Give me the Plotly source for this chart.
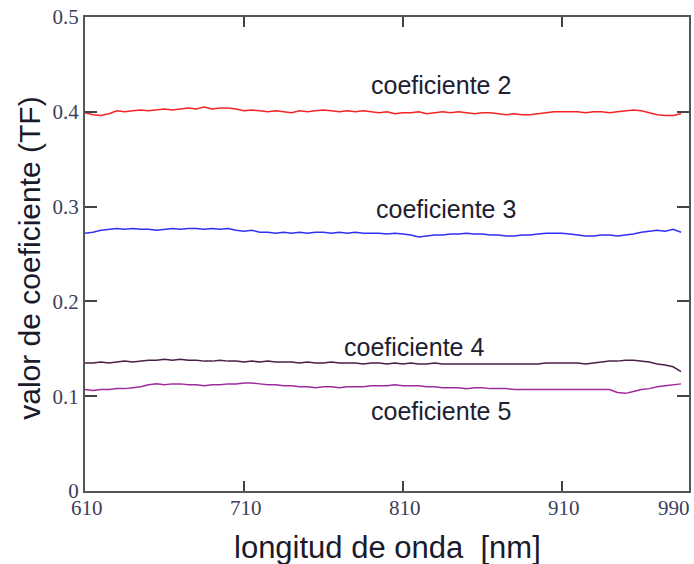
import plotly.graph_objects as go

wavelength = list(range(610, 990, 5))

coef2 = [0.399, 0.397, 0.396, 0.398, 0.401, 0.400, 0.401, 0.402, 0.401, 0.402,
         0.403, 0.402, 0.403, 0.404, 0.403, 0.405, 0.403, 0.404, 0.404, 0.403,
         0.401, 0.402, 0.401, 0.400, 0.401, 0.400, 0.399, 0.401, 0.400, 0.401,
         0.402, 0.401, 0.400, 0.401, 0.400, 0.401, 0.400, 0.399, 0.400, 0.398,
         0.399, 0.399, 0.400, 0.398, 0.399, 0.400, 0.399, 0.400, 0.399, 0.398,
         0.399, 0.399, 0.398, 0.397, 0.398, 0.397, 0.397, 0.398, 0.399, 0.400,
         0.400, 0.400, 0.400, 0.399, 0.400, 0.400, 0.399, 0.400, 0.401, 0.402,
         0.401, 0.399, 0.397, 0.396, 0.396, 0.398]

coef3 = [0.272, 0.273, 0.275, 0.276, 0.277, 0.276, 0.277, 0.276, 0.276, 0.275,
         0.276, 0.277, 0.276, 0.277, 0.277, 0.276, 0.277, 0.276, 0.277, 0.275,
         0.274, 0.275, 0.273, 0.273, 0.272, 0.273, 0.272, 0.273, 0.272, 0.273,
         0.273, 0.272, 0.273, 0.272, 0.273, 0.272, 0.272, 0.272, 0.271, 0.272,
         0.271, 0.270, 0.268, 0.269, 0.270, 0.270, 0.271, 0.271, 0.272, 0.271,
         0.271, 0.270, 0.270, 0.269, 0.269, 0.270, 0.270, 0.271, 0.272, 0.272,
         0.272, 0.271, 0.270, 0.269, 0.269, 0.270, 0.270, 0.269, 0.270, 0.271,
         0.273, 0.274, 0.275, 0.274, 0.276, 0.273]

coef4 = [0.135, 0.135, 0.136, 0.135, 0.136, 0.137, 0.136, 0.137, 0.138, 0.138,
         0.139, 0.138, 0.139, 0.138, 0.138, 0.137, 0.137, 0.138, 0.137, 0.137,
         0.136, 0.137, 0.136, 0.137, 0.136, 0.136, 0.136, 0.135, 0.136, 0.135,
         0.135, 0.136, 0.135, 0.135, 0.135, 0.134, 0.135, 0.135, 0.134, 0.135,
         0.134, 0.135, 0.134, 0.134, 0.135, 0.134, 0.134, 0.134, 0.134, 0.134,
         0.134, 0.134, 0.134, 0.134, 0.134, 0.134, 0.134, 0.134, 0.135, 0.135,
         0.135, 0.135, 0.135, 0.134, 0.135, 0.136, 0.137, 0.137, 0.138, 0.138,
         0.137, 0.136, 0.134, 0.133, 0.131, 0.126]

coef5 = [0.107, 0.106, 0.107, 0.107, 0.108, 0.108, 0.109, 0.110, 0.112, 0.113,
         0.112, 0.113, 0.113, 0.112, 0.112, 0.111, 0.112, 0.112, 0.113, 0.113,
         0.114, 0.114, 0.113, 0.112, 0.112, 0.111, 0.111, 0.110, 0.110, 0.109,
         0.110, 0.110, 0.109, 0.110, 0.110, 0.110, 0.111, 0.111, 0.111, 0.112,
         0.111, 0.111, 0.111, 0.110, 0.110, 0.109, 0.109, 0.109, 0.108, 0.109,
         0.109, 0.108, 0.108, 0.108, 0.107, 0.107, 0.107, 0.107, 0.107, 0.107,
         0.107, 0.107, 0.107, 0.107, 0.107, 0.107, 0.107, 0.104, 0.103, 0.105,
         0.107, 0.108, 0.110, 0.111, 0.112, 0.113]

x_ticks = [610, 710, 810, 910, 990]
x_tick_labels = ["610", "710", "810", "910", "990"]
y_ticks = [0, 0.1, 0.2, 0.3, 0.4, 0.5]
y_tick_labels = ["0", "0.1", "0.2", "0.3", "0.4", "0.5"]

series_names = ["coeficiente 2", "coeficiente 3", "coeficiente 4", "coeficiente 5"]
series_values = [coef2, coef3, coef4, coef5]
series_colors = ["#f42424", "#3030f4", "#4a1f48", "#a02aa0"]
label_x = [834, 837, 817, 834]
label_y = [0.428, 0.297, 0.152, 0.084]

fig = go.Figure()
for name, vals, col in zip(series_names, series_values, series_colors):
    fig.add_trace(go.Scatter(x=wavelength, y=vals, mode="lines", name=name,
                             line=dict(color=col, width=1.5), showlegend=False))

annotations = []
for name, lx, ly in zip(series_names, label_x, label_y):
    annotations.append(dict(x=lx, y=ly, xref="x", yref="y", text=name, showarrow=False,
                            font=dict(family="Liberation Sans", size=25, color="#202030"),
                            xanchor="center", yanchor="middle"))
for i, (tv, tt) in enumerate(zip(x_ticks, x_tick_labels)):
    last = i == len(x_ticks) - 1
    annotations.append(dict(x=tv, y=0, xref="x", yref="paper", text=tt, showarrow=False,
                            font=dict(family="Liberation Serif", size=21, color="#3b3f58"),
                            xanchor="right" if last else "center", yanchor="top",
                            yshift=-3, xshift=3 if last else 2))
annotations.append(dict(x=-0.091, y=0.49, xref="paper", yref="paper",
                        text="valor de coeficiente (TF)", textangle=-90, showarrow=False,
                        font=dict(family="Liberation Sans", size=30, color="#1a1a2a"),
                        xanchor="center", yanchor="middle"))
annotations.append(dict(x=0.5, y=-0.12, xref="paper", yref="paper",
                        text="longitud de onda  [nm]", showarrow=False,
                        font=dict(family="Liberation Sans", size=31, color="#1a1a2a"),
                        xanchor="center", yanchor="middle"))

fig.update_layout(
    width=694, height=564,
    margin=dict(l=85, r=5, t=17, b=73),
    paper_bgcolor="white", plot_bgcolor="white",
    annotations=annotations,
    xaxis=dict(range=[610, 990], tickvals=x_ticks, showticklabels=False,
               ticks="inside", ticklen=10, tickwidth=2, tickcolor="#444",
               showline=True, linecolor="#555", linewidth=2, mirror="ticks",
               showgrid=False, zeroline=False, automargin=False),
    yaxis=dict(range=[0, 0.5], tickvals=y_ticks, ticktext=y_tick_labels,
               ticks="inside", ticklen=12, tickwidth=2, tickcolor="#444",
               showline=True, linecolor="#555", linewidth=2, mirror="ticks",
               showgrid=False, zeroline=False, automargin=False,
               ticklabeloverflow="allow",
               tickfont=dict(family="Liberation Serif", size=21, color="#3b3f58")),
)

fig.write_html(
    "out.html",
    config={"displayModeBar": False},
    post_script="document.body.style.margin='0';document.body.style.overflow='hidden';",
)
